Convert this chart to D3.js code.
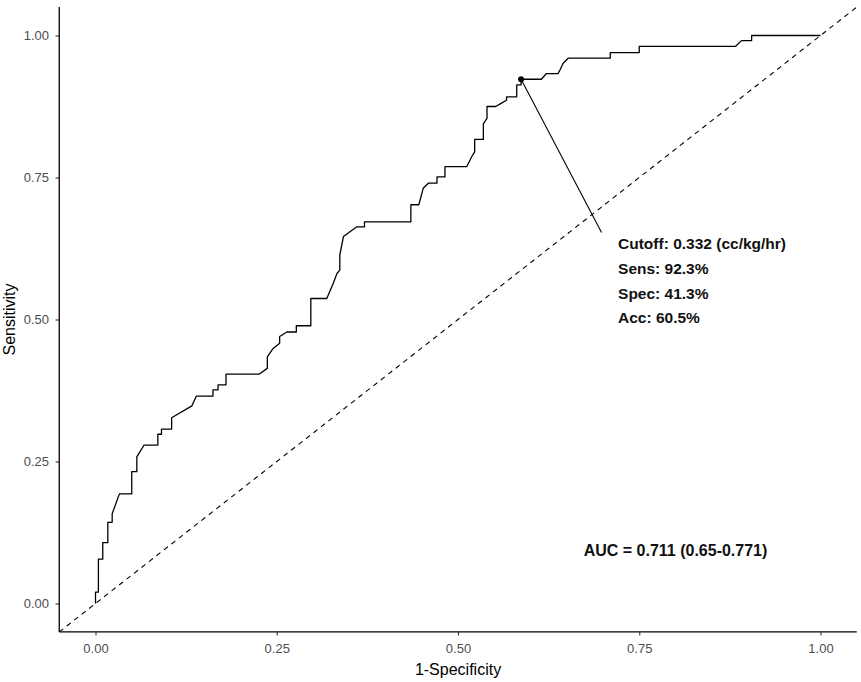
<!DOCTYPE html>
<html>
<head>
<meta charset="utf-8">
<script src="https://cdn.jsdelivr.net/npm/d3@7"></script>
<style>
  html, body { margin: 0; padding: 0; background: #fff; }
  svg { display: block; font-family: "Liberation Sans", Arial, sans-serif; }
</style>
</head>
<body>
<svg id="chart" width="861" height="682"></svg>
<script>
// ROC curve coordinates (1 - specificity, sensitivity)
const fpr = [0, 0, 0.004, 0.004, 0.010, 0.010, 0.017, 0.017, 0.023, 0.023, 0.033, 0.050, 0.050, 0.057, 0.057, 0.067,
  0.086, 0.086, 0.091, 0.091, 0.105, 0.105, 0.133, 0.139, 0.162, 0.162, 0.169, 0.169, 0.180, 0.180, 0.226, 0.237,
  0.237, 0.245, 0.254, 0.254, 0.264, 0.277, 0.277, 0.297, 0.297, 0.319, 0.328, 0.333, 0.337, 0.337, 0.342, 0.360,
  0.371, 0.371, 0.435, 0.435, 0.446, 0.452, 0.459, 0.471, 0.471, 0.482, 0.482, 0.512, 0.519, 0.523, 0.523, 0.535,
  0.535, 0.540, 0.540, 0.552, 0.560, 0.567, 0.567, 0.581, 0.581, 0.587, 0.587, 0.615, 0.622, 0.638, 0.641, 0.645,
  0.652, 0.710, 0.710, 0.750, 0.750, 0.883, 0.891, 0.905, 0.905, 1.0];
const tpr = [0, 0.020, 0.020, 0.078, 0.078, 0.107, 0.107, 0.143, 0.143, 0.158, 0.193, 0.193, 0.232, 0.232, 0.258, 0.279,
  0.279, 0.298, 0.298, 0.307, 0.307, 0.327, 0.348, 0.365, 0.365, 0.376, 0.376, 0.385, 0.385, 0.404, 0.404, 0.414,
  0.434, 0.449, 0.458, 0.470, 0.478, 0.478, 0.489, 0.489, 0.537, 0.537, 0.564, 0.581, 0.587, 0.614, 0.646, 0.663,
  0.663, 0.672, 0.672, 0.702, 0.702, 0.731, 0.740, 0.740, 0.751, 0.751, 0.769, 0.769, 0.787, 0.795, 0.817, 0.817,
  0.845, 0.854, 0.875, 0.875, 0.881, 0.886, 0.892, 0.892, 0.913, 0.913, 0.923, 0.923, 0.933, 0.933, 0.940, 0.951,
  0.960, 0.960, 0.970, 0.970, 0.981, 0.981, 0.991, 0.991, 1.0, 1.0];

const cutoffPoint = [0.587, 0.923];
const cutoffLabelAnchor = [0.698, 0.653];
const cutoffLabels = ["Cutoff: 0.332 (cc/kg/hr)", "Sens: 92.3%", "Spec: 41.3%", "Acc: 60.5%"];
const aucLabel = "AUC = 0.711 (0.65-0.771)";
const aucPosition = [0.80, 0.094];

const xTicks = [0, 0.25, 0.5, 0.75, 1];
const yTicks = [0, 0.25, 0.5, 0.75, 1];
const xTitle = "1-Specificity";
const yTitle = "Sensitivity";

(function () {
const svg = d3.select("#chart");
const W = 861, H = 682;
const pL = 59.25, pR = 856.75, pT = 7.1, pB = 631.9;

const x = d3.scaleLinear().domain([-0.05, 1.05]).range([pL, pR]);
const y = d3.scaleLinear().domain([-0.05, 1.05]).range([pB, pT]);

svg.append("rect").attr("width", W).attr("height", H).attr("fill", "#fff");

svg.append("clipPath").attr("id", "panel")
  .append("rect").attr("x", pL).attr("y", pT).attr("width", pR - pL).attr("height", pB - pT);

const g = svg.append("g").attr("clip-path", "url(#panel)");

// diagonal reference line
g.append("line")
  .attr("x1", x(-0.05)).attr("y1", y(-0.05))
  .attr("x2", x(1.05)).attr("y2", y(1.05))
  .attr("stroke", "#000").attr("stroke-width", 1.1)
  .attr("stroke-dasharray", "5,4.5");

// ROC curve
const pts = fpr.map((d, i) => [d, tpr[i]]);
g.append("path")
  .datum(pts)
  .attr("d", d3.line().x(d => x(d[0])).y(d => y(d[1])))
  .attr("fill", "none").attr("stroke", "#000").attr("stroke-width", 1.3)
  .attr("stroke-linejoin", "round");

// cutoff annotation
g.append("line")
  .attr("x1", x(cutoffPoint[0])).attr("y1", y(cutoffPoint[1]))
  .attr("x2", x(cutoffLabelAnchor[0])).attr("y2", y(cutoffLabelAnchor[1]))
  .attr("stroke", "#000").attr("stroke-width", 1.1);
g.append("circle")
  .attr("cx", x(cutoffPoint[0])).attr("cy", y(cutoffPoint[1]))
  .attr("r", 3).attr("fill", "#000");

const lab = svg.append("text")
  .attr("x", x(cutoffLabelAnchor[0]) + 16.5)
  .attr("y", y(cutoffLabelAnchor[1]) + 16.5)
  .attr("font-size", 15.5).attr("font-weight", "bold").attr("fill", "#111");
cutoffLabels.forEach((t, i) => {
  lab.append("tspan").attr("x", x(cutoffLabelAnchor[0]) + 16.5)
    .attr("dy", i === 0 ? 0 : 24.8).text(t);
});

svg.append("text")
  .attr("x", x(aucPosition[0])).attr("y", y(aucPosition[1]))
  .attr("dy", "0.35em")
  .attr("text-anchor", "middle")
  .attr("font-size", 16).attr("font-weight", "bold").attr("fill", "#111")
  .text(aucLabel);

// axes
const fmt = d3.format(".2f");
const xAxis = svg.append("g").attr("transform", `translate(0,${pB})`)
  .call(d3.axisBottom(x).tickValues(xTicks).tickFormat(fmt).tickSizeInner(3.7).tickSizeOuter(0).tickPadding(7.9));
const yAxis = svg.append("g").attr("transform", `translate(${pL},0)`)
  .call(d3.axisLeft(y).tickValues(yTicks).tickFormat(fmt).tickSizeInner(3.7).tickSizeOuter(0).tickPadding(6.5));

[xAxis, yAxis].forEach(a => {
  a.select(".domain").attr("stroke", "#000").attr("stroke-width", 1.3);
  a.selectAll(".tick line").attr("stroke", "#333").attr("stroke-width", 1.1);
  a.selectAll(".tick text").attr("fill", "#4d4d4d").attr("font-size", 13)
    .attr("font-family", "'Liberation Sans', Arial, sans-serif");
});
xAxis.select(".domain").attr("d", `M${pL},0H${pR}`);
yAxis.select(".domain").attr("d", `M0,${pT}V${pB}`);

svg.append("text")
  .attr("x", (pL + pR) / 2).attr("y", 675)
  .attr("text-anchor", "middle").attr("font-size", 16).attr("fill", "#000")
  .text(xTitle);
svg.append("text")
  .attr("transform", `translate(15,${(pT + pB) / 2}) rotate(-90)`)
  .attr("text-anchor", "middle").attr("font-size", 16).attr("fill", "#000")
  .text(yTitle);
})();
</script>
</body>
</html>
